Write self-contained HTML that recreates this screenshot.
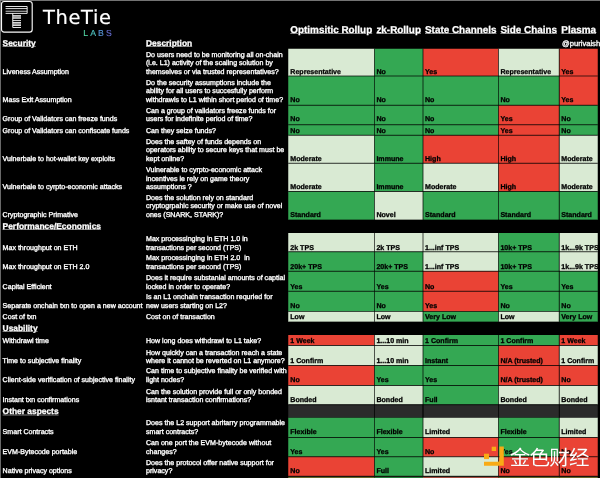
<!DOCTYPE html>
<html lang="en"><head><meta charset="utf-8"><title>Layer 2 scaling comparison</title>
<style>
html,body{margin:0;padding:0;background:#000;}
body{width:600px;height:478px;overflow:hidden;position:relative;font-family:"Liberation Sans", Arial, sans-serif;}
#stage{position:absolute;left:0;top:0;width:2400px;height:1912px;transform:scale(0.25);transform-origin:0 0;overflow:hidden;background:#000;}
.r{position:absolute;}
.t{position:absolute;white-space:pre;font-weight:400;text-rendering:geometricPrecision;-webkit-text-stroke:1.12px currentColor;}
.b{font-weight:700;}
.w{-webkit-text-stroke:1.36px #fff;}
.u{text-decoration:underline;text-underline-offset:2.4px;text-decoration-thickness:2.48px;}
#topline{position:absolute;left:0;top:0;width:2400px;height:3.4px;background:#9a9a9a;}
#leftline{position:absolute;left:0;top:0;width:3.0px;height:1912px;background:#8c8c8c;}
</style></head><body>
<div id="stage">
<div class="t w" style="left:10.4px;top:268.03px;font-size:28.28px;line-height:33.94px;color:#fff;">Liveness Assumption</div>
<div class="t w" style="left:584px;top:202.03px;font-size:28.28px;line-height:33.94px;color:#fff;">Do users need to be monitoring all on-chain</div>
<div class="t w" style="left:584px;top:235.03px;font-size:28.28px;line-height:33.94px;color:#fff;">(i.e. L1) activity of the scaling solution by</div>
<div class="t w" style="left:584px;top:268.03px;font-size:28.28px;line-height:33.94px;color:#fff;">themselves or via trusted representatives?</div>
<div class="r" style="left:1153.2px;top:195.2px;width:344.4px;height:108.8px;background:#d9ead3;"></div>
<div class="t b" style="left:1161.2px;top:268.03px;font-size:28.28px;line-height:33.94px;color:#000;">Representative</div>
<div class="r" style="left:1497.6px;top:195.2px;width:194.4px;height:108.8px;background:#34a853;"></div>
<div class="t b" style="left:1505.6px;top:268.03px;font-size:28.28px;line-height:33.94px;color:#000;">No</div>
<div class="r" style="left:1692px;top:195.2px;width:301.6px;height:108.8px;background:#ea4335;"></div>
<div class="t b" style="left:1700px;top:268.03px;font-size:28.28px;line-height:33.94px;color:#000;">Yes</div>
<div class="r" style="left:1993.6px;top:195.2px;width:243.6px;height:108.8px;background:#d9ead3;"></div>
<div class="t b" style="left:2001.6px;top:268.03px;font-size:28.28px;line-height:33.94px;color:#000;">Representative</div>
<div class="r" style="left:2237.2px;top:195.2px;width:154px;height:108.8px;background:#ea4335;"></div>
<div class="t b" style="left:2245.2px;top:268.03px;font-size:28.28px;line-height:33.94px;color:#000;">Yes</div>
<div class="t w" style="left:10.4px;top:380.43px;font-size:28.28px;line-height:33.94px;color:#fff;">Mass Exit Assumption</div>
<div class="t w" style="left:584px;top:314.43px;font-size:28.28px;line-height:33.94px;color:#fff;">Do the security assumptions include the</div>
<div class="t w" style="left:584px;top:347.43px;font-size:28.28px;line-height:33.94px;color:#fff;">ability for all users to succesfully perform</div>
<div class="t w" style="left:584px;top:380.43px;font-size:28.28px;line-height:33.94px;color:#fff;">withdrawls to L1 within short period of time?</div>
<div class="r" style="left:1153.2px;top:304px;width:344.4px;height:117.2px;background:#34a853;"></div>
<div class="t b" style="left:1161.2px;top:380.43px;font-size:28.28px;line-height:33.94px;color:#000;">No</div>
<div class="r" style="left:1497.6px;top:304px;width:194.4px;height:117.2px;background:#34a853;"></div>
<div class="t b" style="left:1505.6px;top:380.43px;font-size:28.28px;line-height:33.94px;color:#000;">No</div>
<div class="r" style="left:1692px;top:304px;width:301.6px;height:117.2px;background:#34a853;"></div>
<div class="t b" style="left:1700px;top:380.43px;font-size:28.28px;line-height:33.94px;color:#000;">No</div>
<div class="r" style="left:1993.6px;top:304px;width:243.6px;height:117.2px;background:#34a853;"></div>
<div class="t b" style="left:2001.6px;top:380.43px;font-size:28.28px;line-height:33.94px;color:#000;">No</div>
<div class="r" style="left:2237.2px;top:304px;width:154px;height:117.2px;background:#ea4335;"></div>
<div class="t b" style="left:2245.2px;top:380.43px;font-size:28.28px;line-height:33.94px;color:#000;">Yes</div>
<div class="t w" style="left:10.4px;top:459.23px;font-size:28.28px;line-height:33.94px;color:#fff;">Group of Validators can freeze funds</div>
<div class="t w" style="left:584px;top:426.23px;font-size:28.28px;line-height:33.94px;color:#fff;">Can a group of validators freeze funds for</div>
<div class="t w" style="left:584px;top:459.23px;font-size:28.28px;line-height:33.94px;color:#fff;">users for indefinite period of time?</div>
<div class="r" style="left:1153.2px;top:421.2px;width:344.4px;height:78px;background:#34a853;"></div>
<div class="t b" style="left:1161.2px;top:459.23px;font-size:28.28px;line-height:33.94px;color:#000;">No</div>
<div class="r" style="left:1497.6px;top:421.2px;width:194.4px;height:78px;background:#34a853;"></div>
<div class="t b" style="left:1505.6px;top:459.23px;font-size:28.28px;line-height:33.94px;color:#000;">No</div>
<div class="r" style="left:1692px;top:421.2px;width:301.6px;height:78px;background:#34a853;"></div>
<div class="t b" style="left:1700px;top:459.23px;font-size:28.28px;line-height:33.94px;color:#000;">No</div>
<div class="r" style="left:1993.6px;top:421.2px;width:243.6px;height:78px;background:#ea4335;"></div>
<div class="t b" style="left:2001.6px;top:459.23px;font-size:28.28px;line-height:33.94px;color:#000;">Yes</div>
<div class="r" style="left:2237.2px;top:421.2px;width:154px;height:78px;background:#34a853;"></div>
<div class="t b" style="left:2245.2px;top:459.23px;font-size:28.28px;line-height:33.94px;color:#000;">No</div>
<div class="t w" style="left:10.4px;top:504.03px;font-size:28.28px;line-height:33.94px;color:#fff;">Group of Validators can confiscate funds</div>
<div class="t w" style="left:584px;top:504.03px;font-size:28.28px;line-height:33.94px;color:#fff;">Can they seize funds?</div>
<div class="r" style="left:1153.2px;top:499.2px;width:344.4px;height:41.6px;background:#34a853;"></div>
<div class="t b" style="left:1161.2px;top:504.03px;font-size:28.28px;line-height:33.94px;color:#000;">No</div>
<div class="r" style="left:1497.6px;top:499.2px;width:194.4px;height:41.6px;background:#34a853;"></div>
<div class="t b" style="left:1505.6px;top:504.03px;font-size:28.28px;line-height:33.94px;color:#000;">No</div>
<div class="r" style="left:1692px;top:499.2px;width:301.6px;height:41.6px;background:#34a853;"></div>
<div class="t b" style="left:1700px;top:504.03px;font-size:28.28px;line-height:33.94px;color:#000;">No</div>
<div class="r" style="left:1993.6px;top:499.2px;width:243.6px;height:41.6px;background:#ea4335;"></div>
<div class="t b" style="left:2001.6px;top:504.03px;font-size:28.28px;line-height:33.94px;color:#000;">Yes</div>
<div class="r" style="left:2237.2px;top:499.2px;width:154px;height:41.6px;background:#34a853;"></div>
<div class="t b" style="left:2245.2px;top:504.03px;font-size:28.28px;line-height:33.94px;color:#000;">No</div>
<div class="t w" style="left:10.4px;top:616.03px;font-size:28.28px;line-height:33.94px;color:#fff;">Vulnerbale to hot-wallet key exploits</div>
<div class="t w" style="left:584px;top:550.03px;font-size:28.28px;line-height:33.94px;color:#fff;">Does the saftey of funds depends on</div>
<div class="t w" style="left:584px;top:583.03px;font-size:28.28px;line-height:33.94px;color:#fff;">operators ability to secure keys that must be</div>
<div class="t w" style="left:584px;top:616.03px;font-size:28.28px;line-height:33.94px;color:#fff;">kept online?</div>
<div class="r" style="left:1153.2px;top:540.8px;width:344.4px;height:112.4px;background:#d9ead3;"></div>
<div class="t b" style="left:1161.2px;top:616.03px;font-size:28.28px;line-height:33.94px;color:#000;">Moderate</div>
<div class="r" style="left:1497.6px;top:540.8px;width:194.4px;height:112.4px;background:#34a853;"></div>
<div class="t b" style="left:1505.6px;top:616.03px;font-size:28.28px;line-height:33.94px;color:#000;">Immune</div>
<div class="r" style="left:1692px;top:540.8px;width:301.6px;height:112.4px;background:#ea4335;"></div>
<div class="t b" style="left:1700px;top:616.03px;font-size:28.28px;line-height:33.94px;color:#000;">High</div>
<div class="r" style="left:1993.6px;top:540.8px;width:243.6px;height:112.4px;background:#ea4335;"></div>
<div class="t b" style="left:2001.6px;top:616.03px;font-size:28.28px;line-height:33.94px;color:#000;">High</div>
<div class="r" style="left:2237.2px;top:540.8px;width:154px;height:112.4px;background:#d9ead3;"></div>
<div class="t b" style="left:2245.2px;top:616.03px;font-size:28.28px;line-height:33.94px;color:#000;">Moderate</div>
<div class="t w" style="left:10.4px;top:729.23px;font-size:28.28px;line-height:33.94px;color:#fff;">Vulnerbale to cyrpto-economic attacks</div>
<div class="t w" style="left:584px;top:663.23px;font-size:28.28px;line-height:33.94px;color:#fff;">Vulnerable to cyrpto-economic attack</div>
<div class="t w" style="left:584px;top:696.23px;font-size:28.28px;line-height:33.94px;color:#fff;">incentives ie rely on game theory</div>
<div class="t w" style="left:584px;top:729.23px;font-size:28.28px;line-height:33.94px;color:#fff;">assumptions ?</div>
<div class="r" style="left:1153.2px;top:653.2px;width:344.4px;height:112.8px;background:#d9ead3;"></div>
<div class="t b" style="left:1161.2px;top:729.23px;font-size:28.28px;line-height:33.94px;color:#000;">Moderate</div>
<div class="r" style="left:1497.6px;top:653.2px;width:194.4px;height:112.8px;background:#34a853;"></div>
<div class="t b" style="left:1505.6px;top:729.23px;font-size:28.28px;line-height:33.94px;color:#000;">Immune</div>
<div class="r" style="left:1692px;top:653.2px;width:301.6px;height:112.8px;background:#d9ead3;"></div>
<div class="t b" style="left:1700px;top:729.23px;font-size:28.28px;line-height:33.94px;color:#000;">Moderate</div>
<div class="r" style="left:1993.6px;top:653.2px;width:243.6px;height:112.8px;background:#ea4335;"></div>
<div class="t b" style="left:2001.6px;top:729.23px;font-size:28.28px;line-height:33.94px;color:#000;">High</div>
<div class="r" style="left:2237.2px;top:653.2px;width:154px;height:112.8px;background:#d9ead3;"></div>
<div class="t b" style="left:2245.2px;top:729.23px;font-size:28.28px;line-height:33.94px;color:#000;">Moderate</div>
<div class="t w" style="left:10.4px;top:839.63px;font-size:28.28px;line-height:33.94px;color:#fff;">Cryptographic Primative</div>
<div class="t w" style="left:584px;top:773.63px;font-size:28.28px;line-height:33.94px;color:#fff;">Does the solution rely on standard</div>
<div class="t w" style="left:584px;top:806.63px;font-size:28.28px;line-height:33.94px;color:#fff;">cryptogrpahic security or make use of novel</div>
<div class="t w" style="left:584px;top:839.63px;font-size:28.28px;line-height:33.94px;color:#fff;">ones (SNARK, STARK)?</div>
<div class="r" style="left:1153.2px;top:766px;width:344.4px;height:114px;background:#34a853;"></div>
<div class="t b" style="left:1161.2px;top:839.63px;font-size:28.28px;line-height:33.94px;color:#000;">Standard</div>
<div class="r" style="left:1497.6px;top:766px;width:194.4px;height:114px;background:#d9ead3;"></div>
<div class="t b" style="left:1505.6px;top:839.63px;font-size:28.28px;line-height:33.94px;color:#000;">Novel</div>
<div class="r" style="left:1692px;top:766px;width:301.6px;height:114px;background:#34a853;"></div>
<div class="t b" style="left:1700px;top:839.63px;font-size:28.28px;line-height:33.94px;color:#000;">Standard</div>
<div class="r" style="left:1993.6px;top:766px;width:243.6px;height:114px;background:#34a853;"></div>
<div class="t b" style="left:2001.6px;top:839.63px;font-size:28.28px;line-height:33.94px;color:#000;">Standard</div>
<div class="r" style="left:2237.2px;top:766px;width:154px;height:114px;background:#34a853;"></div>
<div class="t b" style="left:2245.2px;top:839.63px;font-size:28.28px;line-height:33.94px;color:#000;">Standard</div>
<div class="t w" style="left:10.4px;top:971.63px;font-size:28.28px;line-height:33.94px;color:#fff;">Max throughput on ETH</div>
<div class="t w" style="left:584px;top:938.63px;font-size:28.28px;line-height:33.94px;color:#fff;">Max processinging in ETH 1.0 in</div>
<div class="t w" style="left:584px;top:971.63px;font-size:28.28px;line-height:33.94px;color:#fff;">transactions per second (TPS)</div>
<div class="r" style="left:1153.2px;top:932.4px;width:344.4px;height:74.4px;background:#d9ead3;"></div>
<div class="t b" style="left:1161.2px;top:971.63px;font-size:28.28px;line-height:33.94px;color:#000;">2k TPS</div>
<div class="r" style="left:1497.6px;top:932.4px;width:194.4px;height:74.4px;background:#d9ead3;"></div>
<div class="t b" style="left:1505.6px;top:971.63px;font-size:28.28px;line-height:33.94px;color:#000;">2k TPS</div>
<div class="r" style="left:1692px;top:932.4px;width:301.6px;height:74.4px;background:#d9ead3;"></div>
<div class="t b" style="left:1700px;top:971.63px;font-size:28.28px;line-height:33.94px;color:#000;">1...inf TPS</div>
<div class="r" style="left:1993.6px;top:932.4px;width:243.6px;height:74.4px;background:#34a853;"></div>
<div class="t b" style="left:2001.6px;top:971.63px;font-size:28.28px;line-height:33.94px;color:#000;">10k+ TPS</div>
<div class="r" style="left:2237.2px;top:932.4px;width:154px;height:74.4px;background:#d9ead3;"></div>
<div class="t b" style="left:2245.2px;top:971.63px;font-size:28.28px;line-height:33.94px;color:#000;">1k...9k TPS</div>
<div class="t w" style="left:10.4px;top:1047.63px;font-size:28.28px;line-height:33.94px;color:#fff;">Max throughput on ETH 2.0</div>
<div class="t w" style="left:584px;top:1014.63px;font-size:28.28px;line-height:33.94px;color:#fff;">Max processinging in ETH 2.0  in</div>
<div class="t w" style="left:584px;top:1047.63px;font-size:28.28px;line-height:33.94px;color:#fff;">transactions per second (TPS)</div>
<div class="r" style="left:1153.2px;top:1006.8px;width:344.4px;height:78.4px;background:#34a853;"></div>
<div class="t b" style="left:1161.2px;top:1047.63px;font-size:28.28px;line-height:33.94px;color:#000;">20k+ TPS</div>
<div class="r" style="left:1497.6px;top:1006.8px;width:194.4px;height:78.4px;background:#34a853;"></div>
<div class="t b" style="left:1505.6px;top:1047.63px;font-size:28.28px;line-height:33.94px;color:#000;">20k+ TPS</div>
<div class="r" style="left:1692px;top:1006.8px;width:301.6px;height:78.4px;background:#d9ead3;"></div>
<div class="t b" style="left:1700px;top:1047.63px;font-size:28.28px;line-height:33.94px;color:#000;">1...inf TPS</div>
<div class="r" style="left:1993.6px;top:1006.8px;width:243.6px;height:78.4px;background:#34a853;"></div>
<div class="t b" style="left:2001.6px;top:1047.63px;font-size:28.28px;line-height:33.94px;color:#000;">10k+ TPS</div>
<div class="r" style="left:2237.2px;top:1006.8px;width:154px;height:78.4px;background:#d9ead3;"></div>
<div class="t b" style="left:2245.2px;top:1047.63px;font-size:28.28px;line-height:33.94px;color:#000;">1k...9k TPS</div>
<div class="t w" style="left:10.4px;top:1127.63px;font-size:28.28px;line-height:33.94px;color:#fff;">Capital Efficient</div>
<div class="t w" style="left:584px;top:1094.63px;font-size:28.28px;line-height:33.94px;color:#fff;">Does it require substanial amounts of captial</div>
<div class="t w" style="left:584px;top:1127.63px;font-size:28.28px;line-height:33.94px;color:#fff;">locked in order to operate?</div>
<div class="r" style="left:1153.2px;top:1085.2px;width:344.4px;height:80px;background:#34a853;"></div>
<div class="t b" style="left:1161.2px;top:1127.63px;font-size:28.28px;line-height:33.94px;color:#000;">Yes</div>
<div class="r" style="left:1497.6px;top:1085.2px;width:194.4px;height:80px;background:#34a853;"></div>
<div class="t b" style="left:1505.6px;top:1127.63px;font-size:28.28px;line-height:33.94px;color:#000;">Yes</div>
<div class="r" style="left:1692px;top:1085.2px;width:301.6px;height:80px;background:#ea4335;"></div>
<div class="t b" style="left:1700px;top:1127.63px;font-size:28.28px;line-height:33.94px;color:#000;">No</div>
<div class="r" style="left:1993.6px;top:1085.2px;width:243.6px;height:80px;background:#34a853;"></div>
<div class="t b" style="left:2001.6px;top:1127.63px;font-size:28.28px;line-height:33.94px;color:#000;">Yes</div>
<div class="r" style="left:2237.2px;top:1085.2px;width:154px;height:80px;background:#34a853;"></div>
<div class="t b" style="left:2245.2px;top:1127.63px;font-size:28.28px;line-height:33.94px;color:#000;">Yes</div>
<div class="t w" style="left:10.4px;top:1203.63px;font-size:28.28px;line-height:33.94px;color:#fff;">Separate onchain txn to open a new account</div>
<div class="t w" style="left:584px;top:1170.63px;font-size:28.28px;line-height:33.94px;color:#fff;">Is an L1 onchain transaction requried for</div>
<div class="t w" style="left:584px;top:1203.63px;font-size:28.28px;line-height:33.94px;color:#fff;">new users starting on L2?</div>
<div class="r" style="left:1153.2px;top:1165.2px;width:344.4px;height:80.4px;background:#34a853;"></div>
<div class="t b" style="left:1161.2px;top:1203.63px;font-size:28.28px;line-height:33.94px;color:#000;">No</div>
<div class="r" style="left:1497.6px;top:1165.2px;width:194.4px;height:80.4px;background:#34a853;"></div>
<div class="t b" style="left:1505.6px;top:1203.63px;font-size:28.28px;line-height:33.94px;color:#000;">No</div>
<div class="r" style="left:1692px;top:1165.2px;width:301.6px;height:80.4px;background:#ea4335;"></div>
<div class="t b" style="left:1700px;top:1203.63px;font-size:28.28px;line-height:33.94px;color:#000;">Yes</div>
<div class="r" style="left:1993.6px;top:1165.2px;width:243.6px;height:80.4px;background:#34a853;"></div>
<div class="t b" style="left:2001.6px;top:1203.63px;font-size:28.28px;line-height:33.94px;color:#000;">No</div>
<div class="r" style="left:2237.2px;top:1165.2px;width:154px;height:80.4px;background:#34a853;"></div>
<div class="t b" style="left:2245.2px;top:1203.63px;font-size:28.28px;line-height:33.94px;color:#000;">No</div>
<div class="t w" style="left:10.4px;top:1249.23px;font-size:28.28px;line-height:33.94px;color:#fff;">Cost of txn</div>
<div class="t w" style="left:584px;top:1249.23px;font-size:28.28px;line-height:33.94px;color:#fff;">Cost on of transaction</div>
<div class="r" style="left:1153.2px;top:1245.6px;width:344.4px;height:42.4px;background:#d9ead3;"></div>
<div class="t b" style="left:1161.2px;top:1249.23px;font-size:28.28px;line-height:33.94px;color:#000;">Low</div>
<div class="r" style="left:1497.6px;top:1245.6px;width:194.4px;height:42.4px;background:#d9ead3;"></div>
<div class="t b" style="left:1505.6px;top:1249.23px;font-size:28.28px;line-height:33.94px;color:#000;">Low</div>
<div class="r" style="left:1692px;top:1245.6px;width:301.6px;height:42.4px;background:#34a853;"></div>
<div class="t b" style="left:1700px;top:1249.23px;font-size:28.28px;line-height:33.94px;color:#000;">Very Low</div>
<div class="r" style="left:1993.6px;top:1245.6px;width:243.6px;height:42.4px;background:#d9ead3;"></div>
<div class="t b" style="left:2001.6px;top:1249.23px;font-size:28.28px;line-height:33.94px;color:#000;">Low</div>
<div class="r" style="left:2237.2px;top:1245.6px;width:154px;height:42.4px;background:#34a853;"></div>
<div class="t b" style="left:2245.2px;top:1249.23px;font-size:28.28px;line-height:33.94px;color:#000;">Very Low</div>
<div class="t w" style="left:10.4px;top:1344.03px;font-size:28.28px;line-height:33.94px;color:#fff;">Withdrawl time</div>
<div class="t w" style="left:584px;top:1344.03px;font-size:28.28px;line-height:33.94px;color:#fff;">How long does withdrawl to L1 take?</div>
<div class="r" style="left:1153.2px;top:1339.6px;width:344.4px;height:42.4px;background:#ea4335;"></div>
<div class="t b" style="left:1161.2px;top:1344.03px;font-size:28.28px;line-height:33.94px;color:#000;">1 Week</div>
<div class="r" style="left:1497.6px;top:1339.6px;width:194.4px;height:42.4px;background:#d9ead3;"></div>
<div class="t b" style="left:1505.6px;top:1344.03px;font-size:28.28px;line-height:33.94px;color:#000;">1...10 min</div>
<div class="r" style="left:1692px;top:1339.6px;width:301.6px;height:42.4px;background:#34a853;"></div>
<div class="t b" style="left:1700px;top:1344.03px;font-size:28.28px;line-height:33.94px;color:#000;">1 Confirm</div>
<div class="r" style="left:1993.6px;top:1339.6px;width:243.6px;height:42.4px;background:#34a853;"></div>
<div class="t b" style="left:2001.6px;top:1344.03px;font-size:28.28px;line-height:33.94px;color:#000;">1 Confirm</div>
<div class="r" style="left:2237.2px;top:1339.6px;width:154px;height:42.4px;background:#ea4335;"></div>
<div class="t b" style="left:2245.2px;top:1344.03px;font-size:28.28px;line-height:33.94px;color:#000;">1 Week</div>
<div class="t w" style="left:10.4px;top:1426.03px;font-size:28.28px;line-height:33.94px;color:#fff;">Time to subjective finality</div>
<div class="t w" style="left:584px;top:1393.03px;font-size:28.28px;line-height:33.94px;color:#fff;">How quickly can a transaction reach a state</div>
<div class="t w" style="left:584px;top:1426.03px;font-size:28.28px;line-height:33.94px;color:#fff;">where it cannot be reverted on L1 anymore?</div>
<div class="r" style="left:1153.2px;top:1382px;width:344.4px;height:80px;background:#d9ead3;"></div>
<div class="t b" style="left:1161.2px;top:1426.03px;font-size:28.28px;line-height:33.94px;color:#000;">1 Confirm</div>
<div class="r" style="left:1497.6px;top:1382px;width:194.4px;height:80px;background:#d9ead3;"></div>
<div class="t b" style="left:1505.6px;top:1426.03px;font-size:28.28px;line-height:33.94px;color:#000;">1...10 min</div>
<div class="r" style="left:1692px;top:1382px;width:301.6px;height:80px;background:#34a853;"></div>
<div class="t b" style="left:1700px;top:1426.03px;font-size:28.28px;line-height:33.94px;color:#000;">Instant</div>
<div class="r" style="left:1993.6px;top:1382px;width:243.6px;height:80px;background:#ea4335;"></div>
<div class="t b" style="left:2001.6px;top:1426.03px;font-size:28.28px;line-height:33.94px;color:#000;">N/A (trusted)</div>
<div class="r" style="left:2237.2px;top:1382px;width:154px;height:80px;background:#d9ead3;"></div>
<div class="t b" style="left:2245.2px;top:1426.03px;font-size:28.28px;line-height:33.94px;color:#000;">1 Confirm</div>
<div class="t w" style="left:10.4px;top:1500.43px;font-size:28.28px;line-height:33.94px;color:#fff;">Client-side verification of subjective finality</div>
<div class="t w" style="left:584px;top:1467.43px;font-size:28.28px;line-height:33.94px;color:#fff;">Can time to subjective finality be verified with</div>
<div class="t w" style="left:584px;top:1500.43px;font-size:28.28px;line-height:33.94px;color:#fff;">light nodes?</div>
<div class="r" style="left:1153.2px;top:1462px;width:344.4px;height:80px;background:#ea4335;"></div>
<div class="t b" style="left:1161.2px;top:1500.43px;font-size:28.28px;line-height:33.94px;color:#000;">No</div>
<div class="r" style="left:1497.6px;top:1462px;width:194.4px;height:80px;background:#34a853;"></div>
<div class="t b" style="left:1505.6px;top:1500.43px;font-size:28.28px;line-height:33.94px;color:#000;">Yes</div>
<div class="r" style="left:1692px;top:1462px;width:301.6px;height:80px;background:#34a853;"></div>
<div class="t b" style="left:1700px;top:1500.43px;font-size:28.28px;line-height:33.94px;color:#000;">Yes</div>
<div class="r" style="left:1993.6px;top:1462px;width:243.6px;height:80px;background:#ea4335;"></div>
<div class="t b" style="left:2001.6px;top:1500.43px;font-size:28.28px;line-height:33.94px;color:#000;">N/A (trusted)</div>
<div class="r" style="left:2237.2px;top:1462px;width:154px;height:80px;background:#ea4335;"></div>
<div class="t b" style="left:2245.2px;top:1500.43px;font-size:28.28px;line-height:33.94px;color:#000;">No</div>
<div class="t w" style="left:10.4px;top:1582.03px;font-size:28.28px;line-height:33.94px;color:#fff;">Instant txn confirmations</div>
<div class="t w" style="left:584px;top:1549.03px;font-size:28.28px;line-height:33.94px;color:#fff;">Can the solution provide full or only bonded</div>
<div class="t w" style="left:584px;top:1582.03px;font-size:28.28px;line-height:33.94px;color:#fff;">isntant transaction confirmations?</div>
<div class="r" style="left:1153.2px;top:1542px;width:344.4px;height:77.2px;background:#d9ead3;"></div>
<div class="t b" style="left:1161.2px;top:1582.03px;font-size:28.28px;line-height:33.94px;color:#000;">Bonded</div>
<div class="r" style="left:1497.6px;top:1542px;width:194.4px;height:77.2px;background:#d9ead3;"></div>
<div class="t b" style="left:1505.6px;top:1582.03px;font-size:28.28px;line-height:33.94px;color:#000;">Bonded</div>
<div class="r" style="left:1692px;top:1542px;width:301.6px;height:77.2px;background:#34a853;"></div>
<div class="t b" style="left:1700px;top:1582.03px;font-size:28.28px;line-height:33.94px;color:#000;">Full</div>
<div class="r" style="left:1993.6px;top:1542px;width:243.6px;height:77.2px;background:#d9ead3;"></div>
<div class="t b" style="left:2001.6px;top:1582.03px;font-size:28.28px;line-height:33.94px;color:#000;">Bonded</div>
<div class="r" style="left:2237.2px;top:1542px;width:154px;height:77.2px;background:#d9ead3;"></div>
<div class="t b" style="left:2245.2px;top:1582.03px;font-size:28.28px;line-height:33.94px;color:#000;">Bonded</div>
<div class="t w" style="left:10.4px;top:1708.43px;font-size:28.28px;line-height:33.94px;color:#fff;">Smart Contracts</div>
<div class="t w" style="left:584px;top:1675.43px;font-size:28.28px;line-height:33.94px;color:#fff;">Does the L2 support abritarry programmable</div>
<div class="t w" style="left:584px;top:1708.43px;font-size:28.28px;line-height:33.94px;color:#fff;">smart contracts?</div>
<div class="r" style="left:1153.2px;top:1670px;width:344.4px;height:80px;background:#34a853;"></div>
<div class="t b" style="left:1161.2px;top:1708.43px;font-size:28.28px;line-height:33.94px;color:#000;">Flexible</div>
<div class="r" style="left:1497.6px;top:1670px;width:194.4px;height:80px;background:#34a853;"></div>
<div class="t b" style="left:1505.6px;top:1708.43px;font-size:28.28px;line-height:33.94px;color:#000;">Flexible</div>
<div class="r" style="left:1692px;top:1670px;width:301.6px;height:80px;background:#d9ead3;"></div>
<div class="t b" style="left:1700px;top:1708.43px;font-size:28.28px;line-height:33.94px;color:#000;">Limited</div>
<div class="r" style="left:1993.6px;top:1670px;width:243.6px;height:80px;background:#34a853;"></div>
<div class="t b" style="left:2001.6px;top:1708.43px;font-size:28.28px;line-height:33.94px;color:#000;">Flexible</div>
<div class="r" style="left:2237.2px;top:1670px;width:154px;height:80px;background:#d9ead3;"></div>
<div class="t b" style="left:2245.2px;top:1708.43px;font-size:28.28px;line-height:33.94px;color:#000;">Limited</div>
<div class="t w" style="left:10.4px;top:1788.03px;font-size:28.28px;line-height:33.94px;color:#fff;">EVM-Bytecode portable</div>
<div class="t w" style="left:584px;top:1755.03px;font-size:28.28px;line-height:33.94px;color:#fff;">Can one port the EVM-bytecode without</div>
<div class="t w" style="left:584px;top:1788.03px;font-size:28.28px;line-height:33.94px;color:#fff;">changes?</div>
<div class="r" style="left:1153.2px;top:1750px;width:344.4px;height:77.2px;background:#34a853;"></div>
<div class="t b" style="left:1161.2px;top:1788.03px;font-size:28.28px;line-height:33.94px;color:#000;">Yes</div>
<div class="r" style="left:1497.6px;top:1750px;width:194.4px;height:77.2px;background:#34a853;"></div>
<div class="t b" style="left:1505.6px;top:1788.03px;font-size:28.28px;line-height:33.94px;color:#000;">Yes</div>
<div class="r" style="left:1692px;top:1750px;width:301.6px;height:77.2px;background:#ea4335;"></div>
<div class="t b" style="left:1700px;top:1788.03px;font-size:28.28px;line-height:33.94px;color:#000;">No</div>
<div class="r" style="left:1993.6px;top:1750px;width:243.6px;height:77.2px;background:#34a853;"></div>
<div class="t b" style="left:2001.6px;top:1788.03px;font-size:28.28px;line-height:33.94px;color:#000;">Yes</div>
<div class="r" style="left:2237.2px;top:1750px;width:154px;height:77.2px;background:#ea4335;"></div>
<div class="t b" style="left:2245.2px;top:1788.03px;font-size:28.28px;line-height:33.94px;color:#000;">No</div>
<div class="t w" style="left:10.4px;top:1867.23px;font-size:28.28px;line-height:33.94px;color:#fff;">Native privacy options</div>
<div class="t w" style="left:584px;top:1834.23px;font-size:28.28px;line-height:33.94px;color:#fff;">Does the protocol offer native support for</div>
<div class="t w" style="left:584px;top:1867.23px;font-size:28.28px;line-height:33.94px;color:#fff;">privacy?</div>
<div class="r" style="left:1153.2px;top:1827.2px;width:344.4px;height:77.6px;background:#ea4335;"></div>
<div class="t b" style="left:1161.2px;top:1867.23px;font-size:28.28px;line-height:33.94px;color:#000;">No</div>
<div class="r" style="left:1497.6px;top:1827.2px;width:194.4px;height:77.6px;background:#34a853;"></div>
<div class="t b" style="left:1505.6px;top:1867.23px;font-size:28.28px;line-height:33.94px;color:#000;">Full</div>
<div class="r" style="left:1692px;top:1827.2px;width:301.6px;height:77.6px;background:#d9ead3;"></div>
<div class="t b" style="left:1700px;top:1867.23px;font-size:28.28px;line-height:33.94px;color:#000;">Limited</div>
<div class="r" style="left:1993.6px;top:1827.2px;width:243.6px;height:77.6px;background:#ea4335;"></div>
<div class="t b" style="left:2001.6px;top:1867.23px;font-size:28.28px;line-height:33.94px;color:#000;">No</div>
<div class="r" style="left:2237.2px;top:1827.2px;width:154px;height:77.6px;background:#ea4335;"></div>
<div class="t b" style="left:2245.2px;top:1867.23px;font-size:28.28px;line-height:33.94px;color:#000;">No</div>
<div class="r" style="left:1153.2px;top:1618.4px;width:1238px;height:51.6px;background:#2b2b2b;"></div>
<div class="r" style="left:1153.2px;top:302.2px;width:1238px;height:3.6px;background:rgba(0,0,0,0.7);"></div>
<div class="r" style="left:1153.2px;top:419.4px;width:1238px;height:3.6px;background:rgba(0,0,0,0.7);"></div>
<div class="r" style="left:1153.2px;top:497.4px;width:1238px;height:3.6px;background:rgba(0,0,0,0.7);"></div>
<div class="r" style="left:1153.2px;top:539px;width:1238px;height:3.6px;background:rgba(0,0,0,0.7);"></div>
<div class="r" style="left:1153.2px;top:651.4px;width:1238px;height:3.6px;background:rgba(0,0,0,0.7);"></div>
<div class="r" style="left:1153.2px;top:764.2px;width:1238px;height:3.6px;background:rgba(0,0,0,0.7);"></div>
<div class="r" style="left:1153.2px;top:878.2px;width:1238px;height:3.6px;background:rgba(0,0,0,0.7);"></div>
<div class="r" style="left:1153.2px;top:1005px;width:1238px;height:3.6px;background:rgba(0,0,0,0.7);"></div>
<div class="r" style="left:1153.2px;top:1083.4px;width:1238px;height:3.6px;background:rgba(0,0,0,0.7);"></div>
<div class="r" style="left:1153.2px;top:1163.4px;width:1238px;height:3.6px;background:rgba(0,0,0,0.7);"></div>
<div class="r" style="left:1153.2px;top:1243.8px;width:1238px;height:3.6px;background:rgba(0,0,0,0.7);"></div>
<div class="r" style="left:1153.2px;top:1286.2px;width:1238px;height:3.6px;background:rgba(0,0,0,0.7);"></div>
<div class="r" style="left:1153.2px;top:1380.2px;width:1238px;height:3.6px;background:rgba(0,0,0,0.7);"></div>
<div class="r" style="left:1153.2px;top:1460.2px;width:1238px;height:3.6px;background:rgba(0,0,0,0.7);"></div>
<div class="r" style="left:1153.2px;top:1540.2px;width:1238px;height:3.6px;background:rgba(0,0,0,0.7);"></div>
<div class="r" style="left:1153.2px;top:1617.4px;width:1238px;height:3.6px;background:rgba(0,0,0,0.7);"></div>
<div class="r" style="left:1153.2px;top:1748.2px;width:1238px;height:3.6px;background:rgba(0,0,0,0.7);"></div>
<div class="r" style="left:1153.2px;top:1825.4px;width:1238px;height:3.6px;background:rgba(0,0,0,0.7);"></div>
<div class="r" style="left:1153.2px;top:1903px;width:1238px;height:3.6px;background:rgba(0,0,0,0.7);"></div>
<div class="r" style="left:1495.8px;top:195.2px;width:3.6px;height:684.8px;background:rgba(0,0,0,0.7);"></div>
<div class="r" style="left:1690.2px;top:195.2px;width:3.6px;height:684.8px;background:rgba(0,0,0,0.7);"></div>
<div class="r" style="left:1991.8px;top:195.2px;width:3.6px;height:684.8px;background:rgba(0,0,0,0.7);"></div>
<div class="r" style="left:2235.4px;top:195.2px;width:3.6px;height:684.8px;background:rgba(0,0,0,0.7);"></div>
<div class="r" style="left:1495.8px;top:932.4px;width:3.6px;height:354.8px;background:rgba(0,0,0,0.7);"></div>
<div class="r" style="left:1690.2px;top:932.4px;width:3.6px;height:354.8px;background:rgba(0,0,0,0.7);"></div>
<div class="r" style="left:1991.8px;top:932.4px;width:3.6px;height:354.8px;background:rgba(0,0,0,0.7);"></div>
<div class="r" style="left:2235.4px;top:932.4px;width:3.6px;height:354.8px;background:rgba(0,0,0,0.7);"></div>
<div class="r" style="left:1495.8px;top:1339.6px;width:3.6px;height:565.2px;background:rgba(0,0,0,0.7);"></div>
<div class="r" style="left:1690.2px;top:1339.6px;width:3.6px;height:565.2px;background:rgba(0,0,0,0.7);"></div>
<div class="r" style="left:1991.8px;top:1339.6px;width:3.6px;height:565.2px;background:rgba(0,0,0,0.7);"></div>
<div class="r" style="left:2235.4px;top:1339.6px;width:3.6px;height:565.2px;background:rgba(0,0,0,0.7);"></div>
<div class="r" style="left:1496px;top:1618.4px;width:3.2px;height:51.6px;background:rgba(0,0,0,0.6);"></div>
<div class="r" style="left:1690.4px;top:1618.4px;width:3.2px;height:51.6px;background:rgba(0,0,0,0.6);"></div>
<div class="r" style="left:1992px;top:1618.4px;width:3.2px;height:51.6px;background:rgba(0,0,0,0.6);"></div>
<div class="r" style="left:2235.6px;top:1618.4px;width:3.2px;height:51.6px;background:rgba(0,0,0,0.6);"></div>
<div class="r" style="left:1153.2px;top:1904.8px;width:1238px;height:3.2px;background:#1a1a10;"></div>
<div class="r" style="left:1153.2px;top:1908px;width:344.4px;height:4px;background:#67672b;"></div>
<div class="r" style="left:1497.6px;top:1908px;width:194.4px;height:4px;background:#277c3d;"></div>
<div class="r" style="left:1692px;top:1908px;width:301.6px;height:4px;background:#a34c40;"></div>
<div class="r" style="left:1993.6px;top:1908px;width:243.6px;height:4px;background:#67672b;"></div>
<div class="r" style="left:2237.2px;top:1908px;width:154px;height:4px;background:#67672b;"></div>
<div class="t b u" style="left:10.4px;top:152.2px;font-size:33.6px;line-height:40.32px;color:#fff;">Security</div>
<div class="t b u" style="left:584px;top:151.8px;font-size:33.6px;line-height:40.32px;color:#fff;">Description</div>
<div class="t b u" style="left:10.4px;top:886.2px;font-size:33.6px;line-height:40.32px;color:#fff;">Performance/Economics</div>
<div class="t b u" style="left:10.4px;top:1294.2px;font-size:33.6px;line-height:40.32px;color:#fff;">Usability</div>
<div class="t b u" style="left:10.4px;top:1626.6px;font-size:33.6px;line-height:40.32px;color:#fff;">Other aspects</div>
<div class="t b u" style="left:1161.2px;top:95.32px;font-size:39.6px;line-height:47.52px;color:#fff;">Optimsitic Rollup</div>
<div class="t b u" style="left:1505.6px;top:95.32px;font-size:39.6px;line-height:47.52px;color:#fff;">zk-Rollup</div>
<div class="t b u" style="left:1700px;top:95.32px;font-size:39.6px;line-height:47.52px;color:#fff;">State Channels</div>
<div class="t b u" style="left:2001.6px;top:95.32px;font-size:39.6px;line-height:47.52px;color:#fff;">Side Chains</div>
<div class="t b u" style="left:2245.2px;top:95.32px;font-size:39.6px;line-height:47.52px;color:#fff;">Plasma</div>
<div class="t w" style="left:2248px;top:155.23px;font-size:30.4px;line-height:36.48px;color:#fff;">@purivaishali</div>
<svg style="position:absolute;left:0;top:0" width="480" height="160" viewBox="0 0 120 40">
<rect x="1.5" y="1.5" width="30.7" height="30.6" rx="2.6" ry="2.6" fill="#000" stroke="#fafafa" stroke-width="1.15"/>
<g fill="#8d8d8d"><rect x="13" y="15.7" width="8" height="2.5"/><rect x="13" y="22.6" width="8" height="2.8"/><rect x="5.6" y="10.7" width="21.5" height="1.1" fill="#b5b5b5"/></g>
<g stroke="#fff" stroke-width="0.9" fill="none">
<path d="M5.6 6.5H27.15V13.4H5.6"/>
<path d="M5.6 8.6H27.15"/>
<path d="M12.75 13.4V27.5H21"/>
<path d="M12.75 15.7H21M12.75 18.2H21M12.75 20.6H21M12.75 22.6H21M12.75 25.4H21"/>
</g>
</svg>
<div class="t" style="left:171.6px;top:20px;font-family:'DejaVu Sans','Liberation Sans',sans-serif;font-size:78px;line-height:96px;letter-spacing:2.48px;color:#fff;-webkit-text-stroke:0.72px #fff;">TheTie</div>
<div class="t" style="left:332.8px;top:110.8px;font-size:34.8px;line-height:40px;letter-spacing:8.4px;-webkit-text-stroke:0.48px currentColor;"><span style="color:#52d6a4">L</span><span style="color:#4fc0bd">A</span><span style="color:#5796d6">B</span><span style="color:#6a72d8">S</span></div>
<svg style="position:absolute;left:1932px;top:1780px" width="88" height="88" viewBox="0 0 22 22">
<g fill="#f9ab15">
<path d="M16.4 1.4H20.8V20.8H1V16.8H14.9Q16.4 16.8 16.4 15.3Z"/>
<rect x="8.7" y="1.7" width="4.4" height="4.3"/>
<rect x="1" y="8.7" width="5" height="5.4"/>
</g></svg>
<div class="t" style="left:2038.8px;top:1776px;font-family:'Liberation Sans','Noto Sans CJK SC',sans-serif;font-weight:400;font-size:82px;line-height:112px;letter-spacing:-3px;color:#fff;-webkit-text-stroke:0;text-shadow:0 1.6px 3.2px rgba(0,0,0,0.35);">金色财经</div>
<div id="topline"></div><div id="leftline"></div>
</div>
</body></html>
